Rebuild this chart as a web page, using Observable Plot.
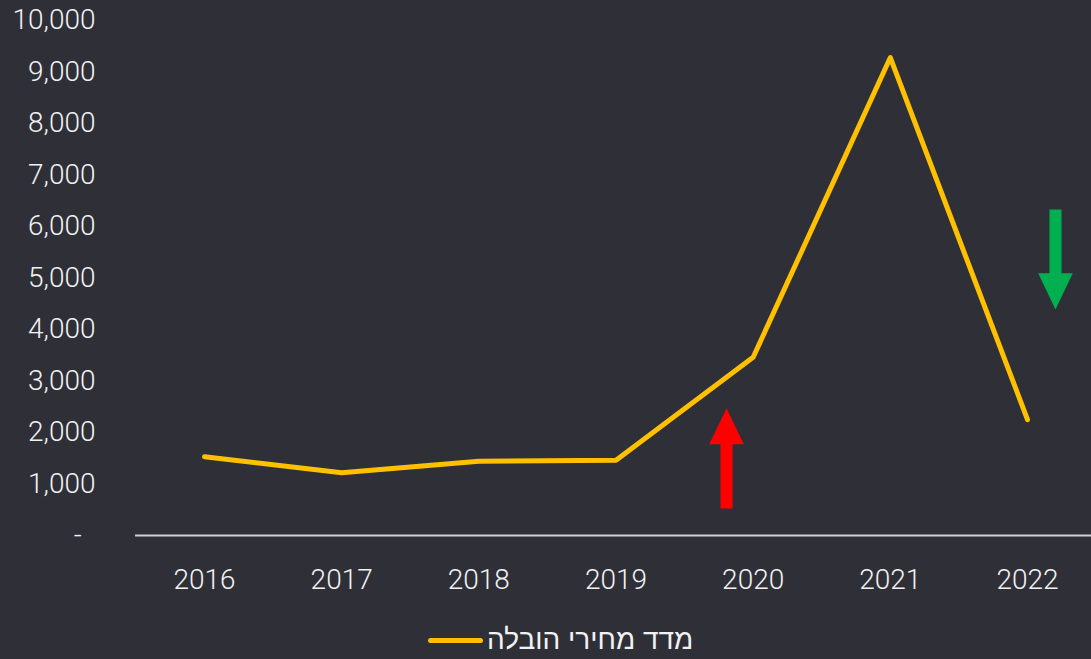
<!DOCTYPE html>
<html>
<head>
<meta charset="utf-8">
<script src="https://cdn.jsdelivr.net/npm/d3@7"></script>
<script src="https://cdn.jsdelivr.net/npm/@observablehq/plot@0.6"></script>
<style>
  html, body { margin: 0; padding: 0; background: #2f2f38; width: 1091px; height: 659px; overflow: hidden; }
  #chart { position: absolute; left: 0; top: 0; }
  #legend { position: absolute; left: 428px; top: 620px; height: 40px; display: flex; align-items: center; direction: ltr; }
  #legend .swatch { width: 55px; height: 5px; border-radius: 3px; background: #ffc000; margin-right: 4px; }
  #legend .label { color: #f2f2f2; font-family: "Liberation Sans", "DejaVu Sans", sans-serif; font-size: 28px; direction: rtl; line-height: 40px; }
</style>
</head>
<body>
<div id="chart"></div>
<div id="legend"><span class="swatch"></span><span class="label">מדד מחירי הובלה</span></div>
<script>
// ---- data ----
const years = [2016, 2017, 2018, 2019, 2020, 2021, 2022];
const freightIndex = [1530, 1220, 1440, 1460, 3460, 9280, 2250];
const seriesName = "מדד מחירי הובלה";
const yTickValues = [0, 1000, 2000, 3000, 4000, 5000, 6000, 7000, 8000, 9000, 10000];
const yTickLabels = ["-", "1,000", "2,000", "3,000", "4,000", "5,000", "6,000", "7,000", "8,000", "9,000", "10,000"];
const arrowX = [2019.806, 2022.204];
const arrowFrom = [525, 6330];
const arrowTo = [2470, 4390];
const arrowColors = ["#ff0000", "#00b050"];

// ---- build ----
const rows = years.map((yr, i) => ({year: yr, value: freightIndex[i]}));

const shaftHalf = 0.044, headHalf = 0.126, headLen = 700;
const arrowPts = [];
arrowX.forEach((x, i) => {
  const y1 = arrowFrom[i], y2 = arrowTo[i];
  const dir = Math.sign(y2 - y1);
  const yh = y2 - dir * headLen;
  const pts = [
    [x - shaftHalf, y1], [x - shaftHalf, yh], [x - headHalf, yh], [x, y2],
    [x + headHalf, yh], [x + shaftHalf, yh], [x + shaftHalf, y1], [x - shaftHalf, y1]
  ];
  pts.forEach(([px, py]) => arrowPts.push({id: i, x: px, y: py, color: arrowColors[i]}));
});

const labelMap = new Map(yTickValues.map((v, i) => [v, i === 0 ? yTickLabels[i] + "\u00a0\u00a0" : yTickLabels[i]]));

const chart = Plot.plot({
  width: 1091,
  height: 615,
  marginLeft: 135,
  marginRight: 0,
  marginTop: 20,
  marginBottom: 80,
  style: {background: "transparent", color: "#f2f2f2", fontSize: "28px", fontWeight: 300, fontFamily: "Roboto, 'Noto Sans', sans-serif"},
  x: {type: "linear", domain: [2016, 2022], range: [204, 1027]},
  y: {domain: [0, 10000]},
  color: {type: "identity"},
  marks: [
    Plot.axisY({ticks: yTickValues, tickFormat: d => labelMap.get(d), tickSize: 0, tickPadding: 40, label: null, fill: "#f2f2f2"}),
    Plot.axisX({ticks: years, tickFormat: d => String(d), tickSize: 0, tickPadding: 34, label: null, fill: "#f2f2f2"}),
    Plot.ruleY([0], {stroke: "#d0d0d0", strokeWidth: 2}),
    Plot.line(rows, {x: "year", y: "value", stroke: "#ffc000", strokeWidth: 5, strokeLinecap: "round", strokeLinejoin: "round"}),
    Plot.line(arrowPts, {x: "x", y: "y", z: "id", fill: "color", stroke: "none", curve: "linear-closed"})
  ]
});
document.getElementById("chart").appendChild(chart);
</script>
</body>
</html>
